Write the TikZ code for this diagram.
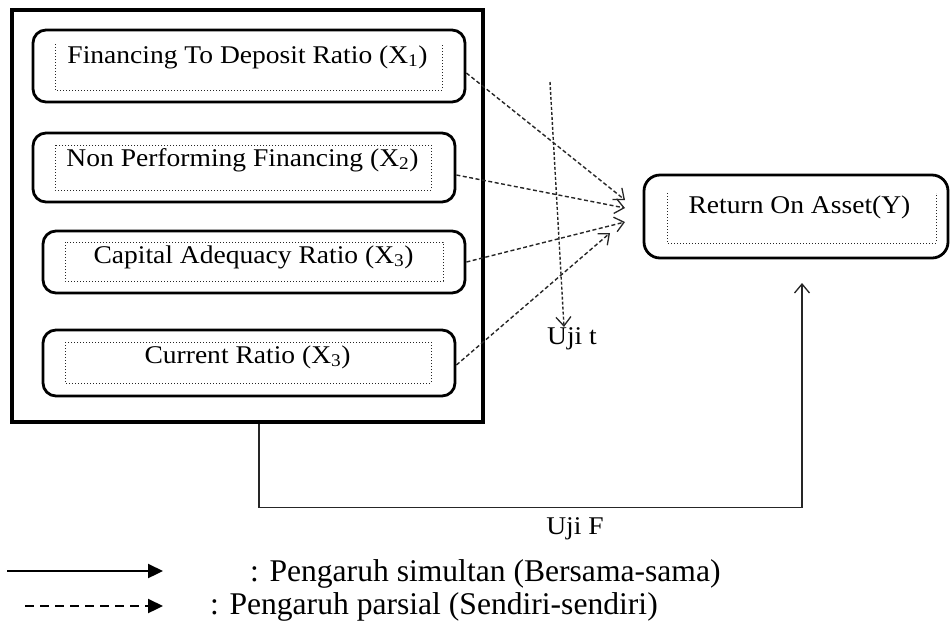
\documentclass[tikz,border=0pt]{standalone}
\usepackage{fontspec}
\setmainfont{Liberation Serif}
\newfontfamily\boxfont[FakeStretch=1.08]{Liberation Serif}
\usetikzlibrary{arrows.meta,calc}
\begin{document}
\begin{tikzpicture}[x=1pt,y=-1pt,
  outerbox/.style={draw, line width=3.2pt, minimum width=471pt, minimum height=412pt, inner sep=0pt},
  varbox/.style={draw, line width=2.8pt, rounded corners=13pt, inner sep=0pt},
  lbl/.style={font=\boxfont\fontsize{25.5}{30}\selectfont, inner sep=0pt, anchor=base},
  legtext/.style={font=\fontsize{31.6}{36}\selectfont, inner sep=0pt, anchor=base west},
  innerframe/.style={draw=black!85, dotted, line width=1pt},
  dasharrow/.style={draw=black!85, line width=1.4pt, dash pattern=on 4pt off 2.5pt,
    -{Straight Barb[length=9pt,width=15pt,line width=1.3pt]}},
  solidarrow/.style={draw=black!85, line width=1.4pt,
    -{Straight Barb[length=9pt,width=15pt,line width=1.3pt]}},
  legarrow/.style={draw=black, line width=2.3pt, -{Triangle[length=15pt,width=14pt]}}
]
\useasboundingbox (0,0) rectangle (950,625);

% outer frame and variable boxes
\node[outerbox] (outer) at (247.5,216) {};
\node[varbox, minimum width=432pt, minimum height=72pt] (b1) at (249,66) {};
\node[varbox, minimum width=422pt, minimum height=69pt] (b2) at (244,167.5) {};
\node[varbox, minimum width=422pt, minimum height=62pt] (b3) at (254,262) {};
\node[varbox, minimum width=412pt, minimum height=66pt] (b4) at (249,363) {};
\node[varbox, rounded corners=16pt, minimum width=304pt, minimum height=83pt] (roa) at (796,216.5) {};

% dotted inner frames
\draw[innerframe] (55,44) -- (55,90) -- (442,90) -- (442,44);
\draw[innerframe] (55,145) rectangle (431,190);
\draw[innerframe] (65,242) rectangle (443,281);
\draw[innerframe] (65,342) rectangle (431,383);
\draw[innerframe] (667,193) -- (667,243) -- (936,243) -- (936,193);

% texts
\node[lbl] (t1) at (247.5,63) {Financing To Deposit Ratio (X\textsubscript{1})};
\node[lbl] (t2) at (242.5,166) {Non Performing Financing (X\textsubscript{2})};
\node[lbl] (t3) at (253.5,263) {Capital Adequacy Ratio (X\textsubscript{3})};
\node[lbl] (t4) at (247.5,363) {Current Ratio (X\textsubscript{3})};
\node[lbl] (ty) at (799.5,213) {Return On Asset(Y)};
\node[lbl] (ujit) at (572,344) {Uji t};
\node[lbl] (ujif) at (575,534) {Uji F};

% partial (dashed) arrows
\coordinate (e1) at (625,200);
\coordinate (e2) at (625,208);
\coordinate (e3) at (625,222);
\coordinate (e4) at (610,233);
\draw[dasharrow] ([yshift=-7pt]b1.east) -- (e1);
\draw[dasharrow] ([yshift=-7.5pt]b2.east) -- (e2);
\draw[dasharrow] (b3.east) -- (e3);
\draw[dasharrow] ([yshift=-2pt]b4.east) -- (e4);

% Uji t
\coordinate (ttop) at (550,82);
\draw[dasharrow, dash pattern=on 3pt off 2pt] (ttop) -- ([xshift=-8pt]ujit.north);

% Uji F (simultaneous)
\coordinate (ftip) at (802,283);
\draw[solidarrow] ([xshift=11.5pt]outer.south) -- ++(0,84) -| (ftip);

% legend
\coordinate (l1a) at (7,571);
\coordinate (l1b) at (163,571);
\coordinate (l2a) at (25,606);
\coordinate (l2b) at (163,606);
\draw[legarrow] (l1a) -- (l1b);
\draw[legarrow, dash pattern=on 9pt off 6pt] (l2a) -- (l2b);
\node[legtext] (lg1) at (250,581) {: Pengaruh simultan (Bersama-sama)};
\node[legtext] (lg2) at (210,614) {: Pengaruh parsial (Sendiri-sendiri)};
\end{tikzpicture}
\end{document}
